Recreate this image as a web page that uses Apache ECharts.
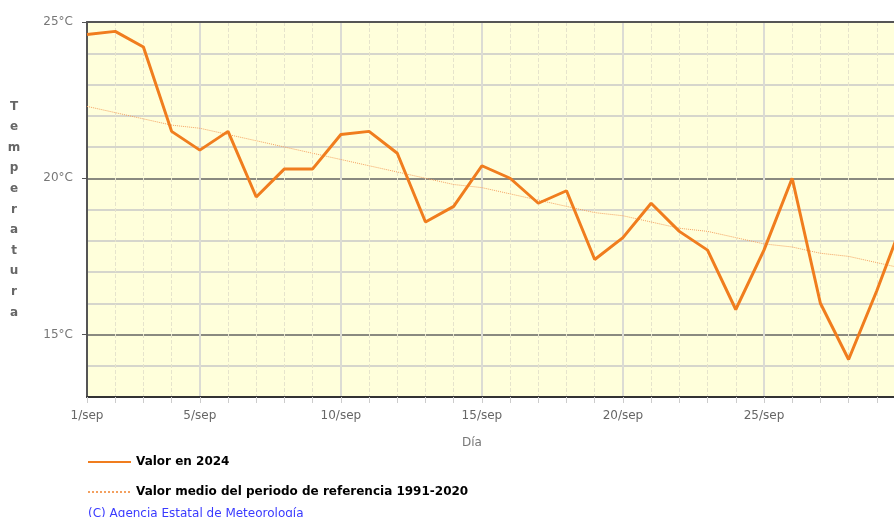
<html>
<head>
<meta charset="utf-8">
<script src="https://cdn.jsdelivr.net/npm/echarts@6/dist/echarts.min.js"></script>
</head>
<body style="margin:0">
<div id="chartmain" style="width:894px;height:517px"></div>
<script type="text/javascript">
    // dias del mes
    var days = ['1/sep', '2/sep', '3/sep', '4/sep', '5/sep', '6/sep', '7/sep', '8/sep', '9/sep', '10/sep',
        '11/sep', '12/sep', '13/sep', '14/sep', '15/sep', '16/sep', '17/sep', '18/sep', '19/sep', '20/sep',
        '21/sep', '22/sep', '23/sep', '24/sep', '25/sep', '26/sep', '27/sep', '28/sep', '29/sep', '30/sep'];
    // valor en 2024
    var valor2024 = [24.6, 24.7, 24.2, 21.5, 20.9, 21.5, 19.4, 20.3, 20.3, 21.4,
        21.5, 20.8, 18.6, 19.1, 20.4, 20.0, 19.2, 19.6, 17.4, 18.1,
        19.2, 18.3, 17.7, 15.8, 17.7, 20.0, 16.0, 14.2, 16.4, 18.8];
    // valor medio 1991-2020
    var valorMedio = [22.3, 22.1, 21.9, 21.7, 21.6, 21.4, 21.2, 21.0, 20.8, 20.6,
        20.4, 20.2, 20.0, 19.8, 19.7, 19.5, 19.3, 19.1, 18.9, 18.8,
        18.6, 18.4, 18.3, 18.1, 17.9, 17.8, 17.6, 17.5, 17.3, 17.1];
    var yLabels = [15, 20, 25];

    var font = 'DejaVu Sans';
    var minor = '#d6d6cc', major = '#8a8a80';
    // colores de las lineas horizontales (13..25)
    var hColors = [];
    for (var v = 13; v <= 25; v++) hColors.push(v % 5 === 0 ? major : minor);

    var option = {
        animation: false,
        textStyle: { fontFamily: font },
        title: {
            text: '(C) Agencia Estatal de Meteorología',
            left: 83, top: 503,
            textStyle: { color: '#3a3aff', fontSize: 12, fontWeight: 'normal', fontFamily: font }
        },
        legend: {
            orient: 'vertical',
            left: 82, top: 451,
            itemWidth: 43, itemHeight: 14, itemGap: 18,
            itemStyle: { opacity: 0 },
            textStyle: { color: '#000', fontWeight: 'bold', fontSize: 12, fontFamily: font },
            data: ['Valor en 2024', 'Valor medio del periodo de referencia 1991-2020']
        },
        grid: {
            left: 87, top: 22, width: 818, height: 375,
            outerBoundsMode: 'none', containLabel: false,
            show: true, backgroundColor: '#ffffdb', borderWidth: 0
        },
        xAxis: [{
            type: 'category', boundaryGap: false, data: days, position: 'bottom',
            name: 'Día', nameLocation: 'middle', nameGap: 40,
            nameTextStyle: { color: '#777', fontSize: 12, padding: [0, 48, 0, 0] },
            axisLine: { lineStyle: { color: '#333', width: 2 } },
            axisTick: { show: true, interval: 0, length: 6, lineStyle: { color: '#ccc' } },
            axisLabel: {
                color: '#666', fontSize: 12, margin: 13,
                interval: function (i) { return i === 0 || ((i + 1) % 5 === 0 && i < 29); }
            },
            splitLine: { show: true, interval: 0, lineStyle: { color: '#e6e4cc', type: 'dashed', width: 1 } }
        }, {
            type: 'category', boundaryGap: false, data: days, position: 'top',
            axisLine: { lineStyle: { color: '#555', width: 2 } },
            axisTick: { show: false }, axisLabel: { show: false },
            splitLine: {
                show: true,
                interval: function (i) { return (i + 1) % 5 === 0; },
                lineStyle: { color: '#dcdcd4', width: 2 }
            }
        }],
        yAxis: [{
            type: 'value', min: 13, max: 25, interval: 1,
            name: 'T\ne\nm\np\ne\nr\na\nt\nu\nr\na',
            nameLocation: 'middle', nameRotate: 0, nameGap: 73,
            nameTextStyle: { color: '#666', fontWeight: 'bold', fontSize: 12, lineHeight: 20.6, align: 'center' },
            axisLine: { show: true, lineStyle: { color: '#555', width: 2 } },
            axisTick: { show: false }, axisLabel: { show: false },
            splitLine: { lineStyle: { color: hColors, width: 2 } }
        }, {
            type: 'value', min: 13, max: 25, position: 'left',
            axisLine: { show: false }, splitLine: { show: false },
            axisTick: { show: true, customValues: yLabels, length: 5, lineStyle: { color: '#555' } },
            axisLabel: { customValues: yLabels, formatter: '{value}°C', color: '#777', fontSize: 12, margin: 14 }
        }],
        series: [{
            name: 'Valor en 2024', type: 'line', data: valor2024,
            symbol: 'none', z: 3,
            lineStyle: { color: '#f07d1e', width: 3 },
            itemStyle: { color: '#f07d1e' }
        }, {
            name: 'Valor medio del periodo de referencia 1991-2020', type: 'line', data: valorMedio,
            symbol: 'none', z: 2,
            lineStyle: { color: '#f3a060', width: 1, type: 'dotted' },
            itemStyle: { color: '#f3a060' }
        }]
    };
    var myChart = echarts.init(document.getElementById('chartmain'));
    myChart.setOption(option);
</script>
</body>
</html>
